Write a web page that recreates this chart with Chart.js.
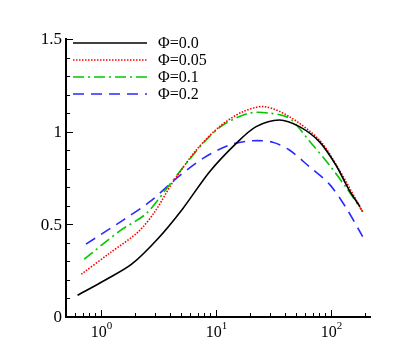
<!DOCTYPE html>
<html>
<head>
<meta charset="utf-8">
<script src="https://cdn.jsdelivr.net/npm/chart.js@4.4.1/dist/chart.umd.min.js"></script>
<style>
  html, body { margin: 0; padding: 0; background: #fff; }
  #wrap { width: 407px; height: 362px; }
</style>
</head>
<body>
<div id="wrap"><canvas id="chart" width="407" height="362"></canvas></div>
<script>
// Series (x is log scale)
const phi00X = [0.63, 1.1, 1.86, 3.16, 5.2, 8.87, 15.1, 22.5, 35.9, 53.6, 79.8, 111, 145, 180];
const phi00Y = [0.117, 0.2, 0.285, 0.424, 0.586, 0.784, 0.937, 1.027, 1.063, 1.027, 0.946, 0.82, 0.685, 0.595];

const phi005X = [0.68, 1.2, 2.12, 2.96, 4.27, 6.8, 10.8, 17.3, 26.6, 43.8, 79.8, 119, 190];
const phi005Y = [0.231, 0.345, 0.459, 0.568, 0.73, 0.901, 1.027, 1.108, 1.135, 1.081, 0.955, 0.793, 0.568];

const phi01X = [0.72, 1.47, 2.5, 4.27, 7.76, 11.6, 19.7, 29.4, 43.8, 65.3, 97.5, 136, 190];
const phi01Y = [0.312, 0.465, 0.559, 0.739, 0.937, 1.036, 1.1, 1.1, 1.072, 0.95, 0.82, 0.7, 0.568];

const phi02X = [0.745, 1.57, 2.68, 4.56, 7.76, 13.2, 21.1, 31.4, 43.8, 65.3, 97.5, 136, 190];
const phi02Y = [0.393, 0.523, 0.622, 0.748, 0.856, 0.928, 0.951, 0.943, 0.901, 0.811, 0.717, 0.59, 0.434];

const seriesLabels = ['\u03A6=0.0', '\u03A6=0.05', '\u03A6=0.1', '\u03A6=0.2'];

// tick labels
const xMajorTicks = [1, 10, 100];
const xTickExponents = ['0', '1', '2'];
const xMinorTicks = [0.6, 0.7, 0.8, 0.9, 2, 3, 4, 5, 6, 7, 8, 9, 20, 30, 40, 50, 60, 70, 80, 90, 200];
const yMajorTicks = [0, 0.5, 1, 1.5];
const yTickLabels = ['0', '0.5', '1', '1.5'];
const yMinorTicks = [0.1, 0.2, 0.3, 0.4, 0.6, 0.7, 0.8, 0.9, 1.1, 1.2, 1.3, 1.4];

function pts(xs, ys) {
    return xs.map((x, i) => ({ x: x, y: ys[i] }));
}

// ticks inside the frame, labels and legend drawn by hand
const framePlugin = {
    id: 'frame',
    afterDraw(chart) {
        const ctx = chart.ctx;
        const xs = chart.scales.x;
        const ys = chart.scales.y;
        const area = chart.chartArea;
        ctx.save();
        ctx.strokeStyle = '#000';
        ctx.lineWidth = 1;
        ctx.beginPath();
        xMajorTicks.forEach(v => {
            const px = Math.round(xs.getPixelForValue(v)) + 0.5;
            ctx.moveTo(px, area.bottom);
            ctx.lineTo(px, area.bottom - 7);
        });
        xMinorTicks.forEach(v => {
            const px = Math.round(xs.getPixelForValue(v)) + 0.5;
            ctx.moveTo(px, area.bottom);
            ctx.lineTo(px, area.bottom - 4);
        });
        yMajorTicks.forEach(v => {
            const py = Math.round(ys.getPixelForValue(v)) + 0.5;
            ctx.moveTo(area.left, py);
            ctx.lineTo(area.left + 7, py);
        });
        yMinorTicks.forEach(v => {
            const py = Math.round(ys.getPixelForValue(v)) + 0.5;
            ctx.moveTo(area.left, py);
            ctx.lineTo(area.left + 4, py);
        });
        ctx.stroke();

        ctx.fillStyle = '#000';
        // y labels
        ctx.font = '17px "Liberation Serif", "Times New Roman", serif';
        ctx.textAlign = 'right';
        ctx.textBaseline = 'middle';
        yMajorTicks.forEach((v, i) => {
            ctx.fillText(yTickLabels[i], area.left - 4, ys.getPixelForValue(v) + 1);
        });
        // x labels: 10 with exponent
        ctx.textBaseline = 'alphabetic';
        ctx.textAlign = 'left';
        xMajorTicks.forEach((v, i) => {
            const px = xs.getPixelForValue(v);
            ctx.font = '16px "Liberation Serif", "Times New Roman", serif';
            const wBase = ctx.measureText('10').width;
            ctx.font = '11px "Liberation Serif", "Times New Roman", serif';
            const wExp = ctx.measureText(xTickExponents[i]).width;
            const x0 = px - (wBase + wExp) / 2 + 1;
            ctx.font = '16px "Liberation Serif", "Times New Roman", serif';
            ctx.fillText('10', x0, area.bottom + 20);
            ctx.font = '11px "Liberation Serif", "Times New Roman", serif';
            ctx.fillText(xTickExponents[i], x0 + wBase, area.bottom + 12);
        });

        // legend
        ctx.font = '16px "Liberation Serif", "Times New Roman", serif';
        ctx.textBaseline = 'middle';
        chart.data.datasets.forEach((ds, i) => {
            const ly = 43 + i * 17;
            ctx.strokeStyle = ds.borderColor;
            ctx.lineWidth = ds.borderWidth;
            ctx.setLineDash(ds.borderDash || []);
            ctx.beginPath();
            ctx.moveTo(73, ly);
            ctx.lineTo(147, ly);
            ctx.stroke();
            ctx.setLineDash([]);
            ctx.fillStyle = '#000';
            ctx.fillText(ds.label, 158, ly + 1);
        });
        ctx.restore();
    }
};

const ctx = document.getElementById('chart').getContext('2d');
new Chart(ctx, {
    type: 'line',
    data: {
        datasets: [
            {
                label: seriesLabels[0],
                data: pts(phi00X, phi00Y),
                borderColor: '#000000',
                borderWidth: 1.6,
                borderDash: []
            },
            {
                label: seriesLabels[1],
                data: pts(phi005X, phi005Y),
                borderColor: '#ff0000',
                borderWidth: 1.6,
                borderDash: [1.5, 1.5]
            },
            {
                label: seriesLabels[2],
                data: pts(phi01X, phi01Y),
                borderColor: '#00c800',
                borderWidth: 1.6,
                borderDash: [11, 4, 2, 4]
            },
            {
                label: seriesLabels[3],
                data: pts(phi02X, phi02Y),
                borderColor: '#2a2aff',
                borderWidth: 1.6,
                borderDash: [11, 7]
            }
        ]
    },
    options: {
        responsive: false,
        animation: false,
        devicePixelRatio: 1,
        layout: { padding: { top: 39, right: 37, left: 0, bottom: 0 } },
        elements: {
            point: { radius: 0 },
            line: { tension: 0.3, fill: false }
        },
        scales: {
            x: {
                type: 'logarithmic',
                min: 0.5,
                max: 220,
                grid: { display: false },
                border: { display: true, color: '#000', width: 2 },
                ticks: { display: false },
                afterFit: function(scale) { scale.height = 45; }
            },
            y: {
                type: 'linear',
                min: 0,
                max: 1.5,
                grid: { display: false },
                border: { display: true, color: '#000', width: 2 },
                ticks: { display: false },
                afterFit: function(scale) { scale.width = 66; }
            }
        },
        plugins: {
            legend: { display: false },
            tooltip: { enabled: false }
        }
    },
    plugins: [framePlugin]
});
</script>
</body>
</html>
